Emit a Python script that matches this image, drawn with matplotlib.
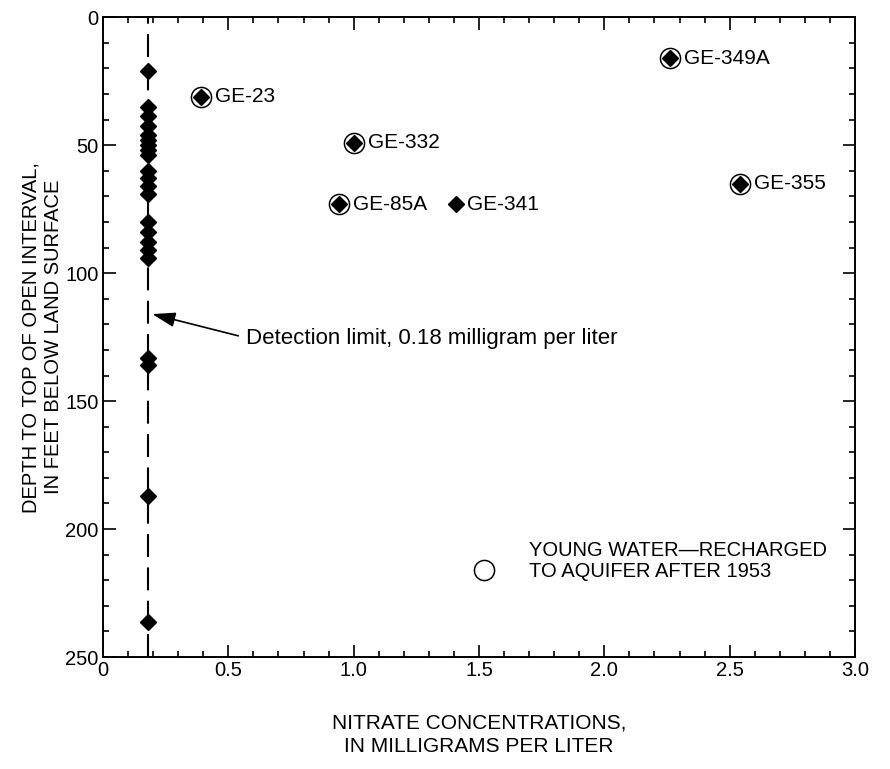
import matplotlib
matplotlib.use("Agg")
import matplotlib.pyplot as plt
from matplotlib.ticker import MultipleLocator

# nitrate below detection limit, plotted at the limit
DETECTION_LIMIT = 0.18
below_limit_depth = [21, 35, 38.5, 42.5, 46, 48, 50, 52, 54, 60, 63, 66, 69,
                     80, 84, 88, 91, 94, 133, 136, 187, 236.5]

# named wells
well_names = ["GE-23", "GE-332", "GE-85A", "GE-341", "GE-349A", "GE-355"]
well_nitrate = [0.39, 1.00, 0.94, 1.41, 2.26, 2.54]
well_depth = [31, 49, 73, 73, 16, 65]
well_young = [True, True, True, False, True, True]

REG = ["Liberation Sans", "DejaVu Sans"]

plt.rcParams["font.family"] = REG
plt.rcParams["xtick.direction"] = "in"
plt.rcParams["ytick.direction"] = "in"
plt.rcParams["xtick.top"] = True
plt.rcParams["ytick.right"] = True

fig = plt.figure(figsize=(8.9, 7.69), dpi=100)
ax = fig.add_axes([0.1157, 0.1456, 0.845, 0.832])

ax.axvline(DETECTION_LIMIT, color="black", lw=1.5, ls=(0, (11, 5)), zorder=1)
ax.plot([DETECTION_LIMIT] * len(below_limit_depth), below_limit_depth, "D",
        color="black", ms=8.5, ls="none", zorder=3)

for name, x, y, young in zip(well_names, well_nitrate, well_depth, well_young):
    ax.plot(x, y, "D", color="black", ms=8.5, zorder=3)
    if young:
        ax.plot(x, y, "o", mfc="none", mec="black", mew=1.1, ms=14.5, zorder=3)
        off = 10.5
    else:
        off = 7.5
    ax.annotate(name, (x, y), xytext=(off, 0), textcoords="offset points",
                ha="left", va="center", fontsize=15)

ax.annotate("", xy=(0.197, 116), xytext=(0.54, 124.5),
            arrowprops=dict(arrowstyle="-|>,head_length=1.4,head_width=0.45",
                            color="black", lw=1.2, shrinkA=0, shrinkB=0))
ax.text(0.57, 125.5, "Detection limit, 0.18 milligram per liter",
        ha="left", va="center", fontsize=16)

# legend for circled symbols
ax.plot(1.52, 216, "o", mfc="none", mec="black", mew=1.1, ms=14.5)
ax.text(1.70, 212.5, "YOUNG WATER\u2014RECHARGED\nTO AQUIFER AFTER 1953",
        ha="left", va="center", fontsize=14.5, linespacing=1.15)

ax.set_xlim(0, 3.0)
ax.set_ylim(250, 0)
ax.xaxis.set_major_locator(MultipleLocator(0.5))
ax.xaxis.set_minor_locator(MultipleLocator(0.1))
ax.yaxis.set_major_locator(MultipleLocator(50))
ax.yaxis.set_minor_locator(MultipleLocator(10))
ax.set_xticks([0, 0.5, 1.0, 1.5, 2.0, 2.5, 3.0])
ax.set_xticklabels(["0", "0.5", "1.0", "1.5", "2.0", "2.5", "3.0"])
ax.tick_params(which="major", length=9, width=1.2, pad=3, labelsize=14.5)
ax.tick_params(which="minor", length=4.5, width=1.2)
for s in ax.spines.values():
    s.set_linewidth(1.4)

ax.set_xlabel("NITRATE CONCENTRATIONS,\nIN MILLIGRAMS PER LITER",
              fontsize=15, labelpad=24, linespacing=1.3)
ax.set_ylabel("DEPTH TO TOP OF OPEN INTERVAL,\nIN FEET BELOW LAND SURFACE",
              fontsize=14.5, labelpad=2, linespacing=1.2)

fig.savefig("out.png", dpi=100)
